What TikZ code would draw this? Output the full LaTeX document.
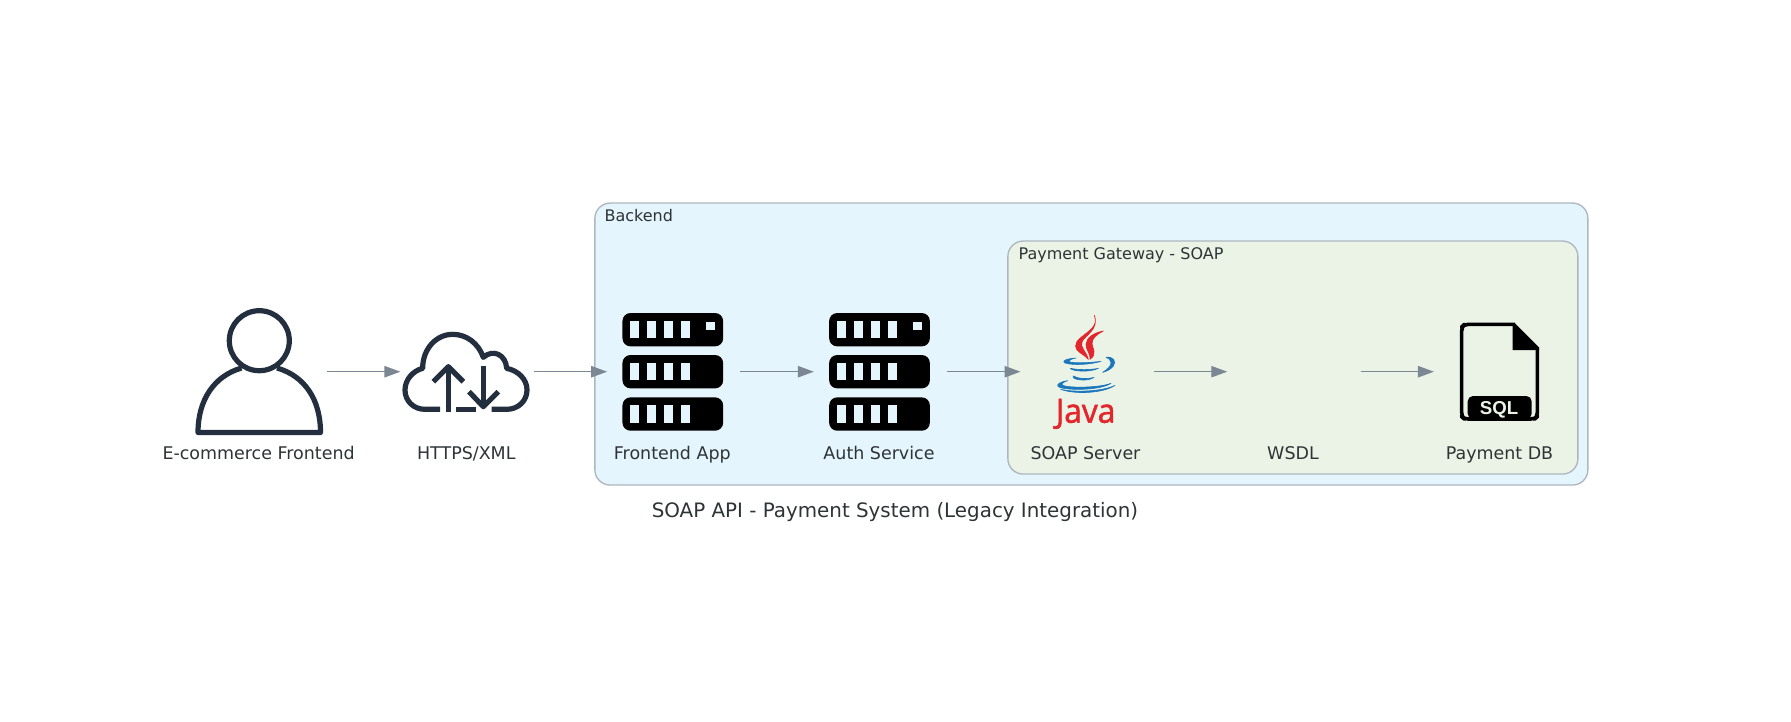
\documentclass[tikz,border=0pt]{standalone}
\usepackage{fontspec}
\usepackage{graphicx}
\setmainfont{DejaVu Sans}
\newfontfamily\arialfont{Liberation Sans}
\newfontfamily\logofont[FakeBold=1.6]{Open Sans}
\usetikzlibrary{arrows.meta}
\definecolor{edgecol}{HTML}{7B8894}
\definecolor{bordercol}{HTML}{AEB6BE}
\definecolor{textcol}{HTML}{2D3436}
\definecolor{clusterA}{HTML}{E5F5FD}
\definecolor{clusterB}{HTML}{EBF3E7}
\definecolor{iconcol}{HTML}{232F3E}
\definecolor{javared}{HTML}{E3262B}
\definecolor{javablue}{HTML}{1B77BC}
\tikzset{
  clusterbox/.style={draw=bordercol,line width=1pt,rounded corners=11.5pt},
  iconspot/.style={minimum width=100pt,minimum height=100pt,inner sep=0pt,outer sep=0pt},
  labeltext/.style={font=\fontsize{13.1}{15}\selectfont,text=textcol,anchor=base,inner sep=0pt},
  clustertext/.style={font=\fontsize{12}{14}\selectfont,text=textcol,anchor=base west,inner sep=0pt},
  flow/.style={draw=edgecol,line width=1.1pt,-{Triangle[length=12pt,width=8.5pt,fill=edgecol]}},
  zoomed/.style={x=.25pt,y=-.25pt},
  strokeicon/.style={draw=iconcol,line width=3.9pt,line join=round,fill=none},
  javared part/.style={fill=javared,draw=javared,line width=.5pt,line join=round},
  javablue part/.style={fill=javablue,draw=javablue,line width=.45pt,line join=round},
  servericon/.pic={
    \begin{scope}[zoomed]
      \foreach \r in {-176,-50,77}{
        \fill[black,rounded corners=6pt] (-154,\r) rectangle (148,\r+100);
        \foreach \s in {-130,-79,-29,22}{
          \fill[clusterA] (\s,\r+24) rectangle (\s+26,\r+76);
        }
      }
      \fill[clusterA] (98,-150) rectangle (124,-126);
    \end{scope}
  }
}
\begin{document}
\begin{tikzpicture}[x=.75pt,y=-.75pt]
\useasboundingbox (0,0) rectangle (1791,721);
\fill[white] (0,0) rectangle (1791,721);
% clusters
\node[clusterbox,fill=clusterA,minimum width=744.75pt,minimum height=211.5pt,inner sep=0pt,anchor=north west] (backend) at (594.2,202.4) {};
\node[clusterbox,fill=clusterB,minimum width=427.5pt,minimum height=174.75pt,inner sep=0pt,anchor=north west] (gateway) at (1007.2,240.4) {};
\node[clustertext] (backendtitle) at (604.3,221.3) {Backend};
\node[clustertext] (gatewaytitle) at (1018.3,259.3) {Payment Gateway - SOAP};
% icon spots
\node[iconspot] (user) at (260.4,371.7) {};
\node[iconspot] (cloud) at (467.1,371.7) {};
\node[iconspot] (front) at (673.8,371.7) {};
\node[iconspot] (auth) at (880.5,371.7) {};
\node[iconspot] (soap) at (1087.2,371.7) {};
\node[iconspot] (wsdl) at (1293.9,371.7) {};
\node[iconspot] (db) at (1500.6,371.7) {};
% labels
\node[labeltext] (userlabel) at (258.6,459) {E-commerce Frontend};
\node[labeltext] (cloudlabel) at (466.3,459) {HTTPS/XML};
\node[labeltext] (frontlabel) at (672.3,459) {Frontend App};
\node[labeltext] (authlabel) at (879,459) {Auth Service};
\node[labeltext] (soaplabel) at (1085.5,459) {SOAP Server};
\node[labeltext] (wsdllabel) at (1293,459) {WSDL};
\node[labeltext] (dblabel) at (1499.5,459) {Payment DB};
\node[labeltext,font=\fontsize{14.9}{17}\selectfont] (title) at (895,517) {SOAP API - Payment System (Legacy Integration)};
% connectors
\draw[flow] (user) -- (cloud);
\draw[flow] (cloud) -- (front);
\draw[flow] (front) -- (auth);
\draw[flow] (auth) -- (soap);
\draw[flow] (soap) -- (wsdl);
\draw[flow] (wsdl) -- (db);
% user icon
\draw[strokeicon] (259.3,340.7) circle[radius=30];
\draw[strokeicon,smooth] (241.5,368) .. controls (214,376) and (198,400) .. (198,432.5) -- (320.5,432.5) .. controls (320.5,400) and (305,376) .. (277,368);
% cloud icon
\begin{scope}[shift={(112.5pt,-210pt)},zoomed]
  \draw[strokeicon,line cap=butt] (870,388) -- (825,388) .. controls (790,388) and (765,362) .. (765,330) .. controls (765,298) and (790,272) .. (818,265)
    .. controls (818,205) and (860,163) .. (908,163) .. controls (950,163) and (985,190) .. (1000,232)
    .. controls (1030,205) and (1068,225) .. (1070,265) .. controls (1105,272) and (1131,298) .. (1131,330) .. controls (1131,362) and (1105,388) .. (1070,388) -- (1025,388);
  \draw[strokeicon] (918,388) -- (978,388);
  \draw[strokeicon] (895,395) -- (895,262);
  \draw[strokeicon] (850,305) -- (895,260) -- (940,305);
  \draw[strokeicon] (1000,258) -- (1000,380);
  \draw[strokeicon] (957,335) -- (1000,380) -- (1045,335);
\end{scope}
% server icons
\pic at (front) {servericon};
\pic at (auth) {servericon};
% java icon
\begin{scope}[shift={(750pt,-172.5pt)},zoomed]
  \path[javared part] (283,256) .. controls (297,290) and (262,305) .. (240,325) .. controls (220,342) and (225,358) .. (240,368) .. controls (250,375) and (258,380) .. (265,388)
     .. controls (262,368) and (238,352) .. (246,335) .. controls (256,315) and (298,298) .. (283,256) -- cycle;
  \path[javared part] (310,303) .. controls (283,308) and (260,322) .. (258,342) .. controls (256,358) and (273,372) .. (270,388)
     .. controls (292,372) and (278,356) .. (276,342) .. controls (274,325) and (292,312) .. (310,303) -- cycle;
  \path[javablue part] (228,384) .. controls (200,386) and (188,392) .. (192,397) .. controls (198,404) and (255,408) .. (303,394) .. controls (255,400) and (205,400) .. (207,393) .. controls (208,390) and (215,386) .. (228,384) -- cycle;
  \path[javablue part] (211,415) .. controls (215,424) and (270,428) .. (295,415) .. controls (270,420) and (235,420) .. (211,415) -- cycle;
  \path[javablue part] (318,382) .. controls (340,378) and (350,395) .. (340,408) .. controls (332,418) and (320,424) .. (308,427) .. controls (322,418) and (334,408) .. (333,397) .. controls (332,388) and (325,384) .. (318,382) -- cycle;
  \path[javablue part] (220,438) .. controls (212,450) and (265,456) .. (282,442) .. controls (262,448) and (232,446) .. (220,438) -- cycle;
  \path[javablue part] (203,452) .. controls (178,456) and (168,464) .. (175,470) .. controls (195,482) and (300,482) .. (333,460) .. controls (295,474) and (205,474) .. (188,466) .. controls (182,462) and (190,456) .. (203,452) -- cycle;
  \path[javablue part] (182,478) .. controls (225,494) and (310,490) .. (345,466) .. controls (310,484) and (225,488) .. (182,478) -- cycle;
\end{scope}
\node[text=javared,inner sep=0pt,anchor=base,font=\logofont\fontsize{25}{25}\selectfont] (javaword) at (1085.6,422.7) {\scalebox{.95}[1]{Java}};
% sql file icon
\begin{scope}[shift={(900pt,-142.5pt)},zoomed]
  \draw[black,line width=2.7pt,line join=round,rounded corners=3pt] (945,403) -- (793,403) -- (785,411) -- (785,680) -- (793,687) -- (1004,687) -- (1012,680) -- (1012,475);
  \fill[black,line join=round] (938,400) -- (945,400) -- (1017,472) -- (1017,480) -- (938,480) -- cycle;
  \fill[black,rounded corners=4pt] (803,687) -- (803,618) -- (995,618) -- (995,687) -- cycle;
\end{scope}
\node[text=clusterB,inner sep=0pt,anchor=base,font=\arialfont\bfseries\fontsize{14}{14}\selectfont] (sqlword) at (1499,414.3) {SQL};
\end{tikzpicture}
\end{document}
